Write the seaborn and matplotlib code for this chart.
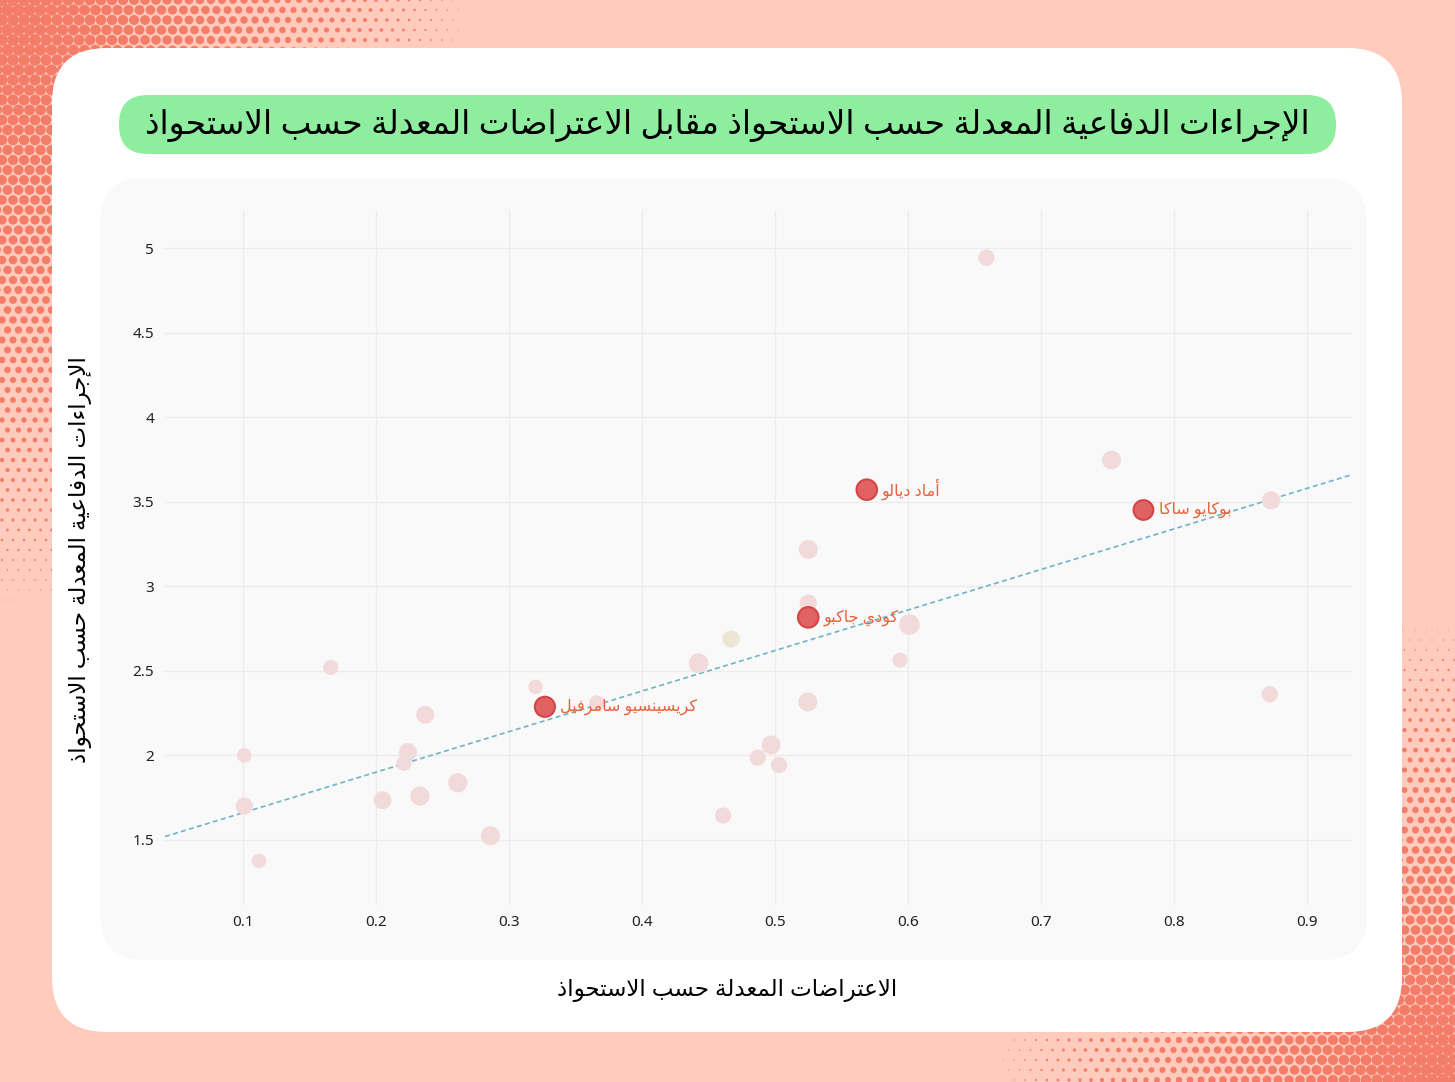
import numpy as np
import pandas as pd
import matplotlib.pyplot as plt
import seaborn as sns
from matplotlib.patches import FancyBboxPatch

# values
interceptions = [0.659, 0.753, 0.873, 0.525, 0.525, 0.601, 0.467, 0.4425, 0.594, 0.5246,
                 0.872, 0.497, 0.487, 0.503, 0.461, 0.166, 0.320, 0.366, 0.237, 0.101,
                 0.224, 0.221, 0.2615, 0.205, 0.233, 0.101, 0.286, 0.112,
                 0.569, 0.777, 0.525, 0.327]
def_actions = [4.943, 3.746, 3.508, 3.218, 2.90, 2.773, 2.688, 2.545, 2.563, 2.316,
               2.362, 2.061, 1.986, 1.943, 1.644, 2.52, 2.405, 2.31, 2.24, 2.00,
               2.02, 1.953, 1.838, 1.735, 1.759, 1.70, 1.524, 1.376,
               3.571, 3.451, 2.816, 2.287]
minutes = [1280, 1950, 1780, 1950, 1520, 2400, 1520, 2180, 1030, 1950,
           1280, 1950, 1280, 1280, 1280, 1030, 900, 1030, 1680, 900,
           1680, 1030, 2030, 1680, 2030, 1520, 2030, 900,
           2400, 2180, 2400, 2280]
group = ['other'] * 6 + ['neutral'] + ['other'] * 21 + ['highlight'] * 4
player = [''] * 28 + ['أماد ديالو', 'بوكايو ساكا', 'كودي جاكبو', 'كريسينسيو سامرفيل']

trend_x = [0.0414, 0.9338]
trend_y = [1.52, 3.66]

x_ticks = [0.1, 0.2, 0.3, 0.4, 0.5, 0.6, 0.7, 0.8, 0.9]
x_tick_labels = ['0.1', '0.2', '0.3', '0.4', '0.5', '0.6', '0.7', '0.8', '0.9']
y_ticks = [1.5, 2, 2.5, 3, 3.5, 4, 4.5, 5]
y_tick_labels = ['1.5', '2', '2.5', '3', '3.5', '4', '4.5', '5']

title = 'الإجراءات الدفاعية المعدلة حسب الاستحواذ مقابل الاعتراضات المعدلة حسب الاستحواذ'
x_label = 'الاعتراضات المعدلة حسب الاستحواذ'
y_label = 'الإجراءات الدفاعية المعدلة حسب الاستحواذ'

# matplotlib does no arabic shaping, so map letters to presentation forms
_AR = {
    'ء': (0xFE80, 1), 'آ': (0xFE81, 2), 'أ': (0xFE83, 2), 'ؤ': (0xFE85, 2),
    'إ': (0xFE87, 2), 'ئ': (0xFE89, 4), 'ا': (0xFE8D, 2), 'ب': (0xFE8F, 4),
    'ة': (0xFE93, 2), 'ت': (0xFE95, 4), 'ث': (0xFE99, 4), 'ج': (0xFE9D, 4),
    'ح': (0xFEA1, 4), 'خ': (0xFEA5, 4), 'د': (0xFEA9, 2), 'ذ': (0xFEAB, 2),
    'ر': (0xFEAD, 2), 'ز': (0xFEAF, 2), 'س': (0xFEB1, 4), 'ش': (0xFEB5, 4),
    'ص': (0xFEB9, 4), 'ض': (0xFEBD, 4), 'ط': (0xFEC1, 4), 'ظ': (0xFEC5, 4),
    'ع': (0xFEC9, 4), 'غ': (0xFECD, 4), 'ف': (0xFED1, 4), 'ق': (0xFED5, 4),
    'ك': (0xFED9, 4), 'ل': (0xFEDD, 4), 'م': (0xFEE1, 4), 'ن': (0xFEE5, 4),
    'ه': (0xFEE9, 4), 'و': (0xFEED, 2), 'ى': (0xFEEF, 2), 'ي': (0xFEF1, 4),
}
_LAM_ALEF = {'آ': 0xFEF5, 'أ': 0xFEF7, 'إ': 0xFEF9, 'ا': 0xFEFB}


def ar(text):
    chars = list(text)
    out = []
    i = 0
    while i < len(chars):
        c = chars[i]
        if c not in _AR:
            out.append(c)
            i += 1
            continue
        prev = chars[i - 1] if i > 0 else None
        joins_prev = prev in _AR and _AR[prev][1] == 4
        nxt = chars[i + 1] if i + 1 < len(chars) else None
        if c == 'ل' and nxt in _LAM_ALEF:
            out.append(chr(_LAM_ALEF[nxt] + (1 if joins_prev else 0)))
            i += 2
            continue
        base, nforms = _AR[c]
        joins_next = nforms == 4 and nxt in _AR
        if nforms == 1:
            form = 0
        elif nforms == 2:
            form = 1 if joins_prev else 0
        else:
            form = {(False, False): 0, (True, False): 1, (False, True): 2, (True, True): 3}[(joins_prev, joins_next)]
        out.append(chr(base + form))
        i += 1
    return ''.join(out)[::-1]


def halftone(ax, cx, cy, rx, ry):
    xs = np.arange(-20, 1480, 11)
    ys = np.arange(-20, 1100, 10)
    X, Y = np.meshgrid(xs, ys)
    X = X + (np.arange(len(ys))[:, None] % 2) * 5.5
    d = np.sqrt(((X - cx) / rx) ** 2 + ((Y - cy) / ry) ** 2)
    r = 6.0 * np.clip(1 - d ** 1.4, 0, 1)
    m = r > 0.4
    ax.scatter(X[m], Y[m], s=(2 * r[m] * 0.72) ** 2, color='#f37d69', linewidths=0, zorder=1)


sns.set_style("white")
plt.rcParams['font.family'] = ['Noto Sans', 'DejaVu Sans']

df = pd.DataFrame({
    'interceptions': interceptions,
    'def_actions': def_actions,
    'minutes': minutes,
    'group': group,
    'player': player,
})

fig = plt.figure(figsize=(14.55, 10.82), dpi=100)
fig.patch.set_facecolor('#ffcbbd')

# decoration layer in pixel coordinates
bg = fig.add_axes([0, 0, 1, 1])
bg.set_xlim(0, 1455)
bg.set_ylim(1082, 0)
bg.axis('off')
halftone(bg, 0, 0, 490, 640)
halftone(bg, 1455, 1082, 480, 480)
bg.add_patch(FancyBboxPatch((52, 48), 1350, 984, boxstyle='round,pad=0,rounding_size=55',
                            fc='white', ec='none', zorder=2))
bg.add_patch(FancyBboxPatch((100, 178), 1267, 782, boxstyle='round,pad=0,rounding_size=45',
                            fc='#f9f9f9', ec='none', zorder=3))
bg.add_patch(FancyBboxPatch((119, 95), 1217, 59, boxstyle='round,pad=0,rounding_size=29',
                            fc='#8eed9e', ec='none', zorder=3))
bg.text(727, 125, ar(title), ha='center', va='center', fontsize=23.6, color='black', zorder=4)
bg.text(727, 990, ar(x_label), ha='center', va='center', fontsize=16.6, color='black', zorder=4)
bg.text(80, 560, ar(y_label), ha='center', va='center', rotation=90, fontsize=16.6,
        color='black', zorder=4)

ax = fig.add_axes([165 / 1455, 1 - 905 / 1082, (1352 - 165) / 1455, (905 - 210) / 1082])
ax.set_facecolor('none')

sns.lineplot(x=trend_x, y=trend_y, ax=ax, color='#6cb4c8', lw=1.2,
             linestyle=(0, (3, 2)), zorder=2)

others = df[df['group'] != 'highlight']
stars = df[df['group'] == 'highlight']
sns.scatterplot(data=others, x='interceptions', y='def_actions', hue='group',
                size='minutes', sizes=(109, 218), size_norm=(900, 2400),
                palette={'other': '#f3dada', 'neutral': '#eee6d4'},
                linewidth=0, legend=False, ax=ax, zorder=3)
sns.scatterplot(data=stars, x='interceptions', y='def_actions', hue='group',
                size='minutes', sizes=(109, 218), size_norm=(900, 2400),
                palette={'highlight': '#e06262'}, edgecolor='#d64545',
                linewidth=1.5, legend=False, ax=ax, zorder=4)

for _, row in stars.iterrows():
    ax.annotate(ar(row['player']), (row['interceptions'], row['def_actions']),
                xytext=(11, 0), textcoords='offset points', ha='left', va='center',
                fontsize=11.5, color='#e8613a', zorder=5)

ax.set_xlim(0.0414, 0.9338)
ax.set_ylim(1.115, 5.225)
ax.set_xticks(x_ticks)
ax.set_xticklabels(x_tick_labels)
ax.set_yticks(y_ticks)
ax.set_yticklabels(y_tick_labels)
ax.tick_params(length=0, labelsize=11, colors='#222222')
ax.tick_params(axis='y', pad=8)
ax.tick_params(axis='x', pad=7)
ax.grid(True, color='#ececec', lw=1)
ax.set_axisbelow(True)
for s in ax.spines.values():
    s.set_visible(False)
ax.set_xlabel('')
ax.set_ylabel('')

plt.savefig('out.png', dpi=100, facecolor=fig.get_facecolor())
plt.close()
